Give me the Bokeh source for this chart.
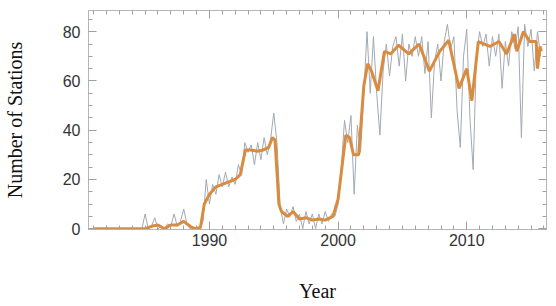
from bokeh.plotting import figure
from bokeh.models import Range1d, LinearAxis, SingleIntervalTicker
from bokeh.embed import file_html
from bokeh.resources import INLINE

# Monthly-ish station counts (read at quarter-year steps)
raw_years = [1981 + 0.25 * i for i in range(140)]
raw_counts = [
    0, 0, 0, 0, 0, 0, 0, 0, 0, 0, 0, 0, 0, 0, 0, 0,          # 1981-1984
    6, 0, 1, 4.5, 0, 1, 0, 2, 1, 6, 1, 3, 8, 2, 0, 0,         # 1985-1988
    0, 0, 3, 20, 10, 18, 14, 22, 17, 23, 17, 21, 18, 26, 22, 35,  # 1989-1992
    31, 34, 26, 35, 28, 37, 30, 36, 47, 35, 9, 2,             # 1993-1995
    8, 5, 9, 3, 6, 0, 7, 2, 6, 0, 6, 2, 7, 3, 6, 5,           # 1996-1999
    10, 25, 44, 35, 46, 14, 42, 31, 55, 80, 55, 78,           # 2000-2002
    55, 38, 64, 75, 62, 74, 78, 66, 79, 60, 75, 70,           # 2003-2005
    78, 70, 78, 63, 76, 45, 68, 75, 60, 76, 83, 73,           # 2006-2008
    78, 48, 33, 70, 81, 45, 24, 70, 80, 74, 79, 66,           # 2009-2011
    78, 70, 79, 57, 76, 66, 80, 73, 82, 37, 83, 74,           # 2012-2014
    81, 64, 80, 70,                                           # 2015
]

# Smoothed series
smooth_years = [1981, 1985, 1985.5, 1986, 1986.5, 1987, 1987.5, 1988, 1988.5, 1988.9,
                1989.3, 1989.6, 1990, 1990.5, 1991, 1991.5, 1992, 1992.4, 1992.8, 1993.2,
                1993.7, 1994.2, 1994.6, 1994.9, 1995.1, 1995.4, 1995.6, 1996.1, 1996.5, 1997,
                1997.5, 1998, 1998.5, 1999, 1999.6, 2000, 2000.3, 2000.6, 2000.9, 2001.2,
                2001.6, 2002.0, 2002.3, 2002.6, 2003.1, 2003.6, 2004.1, 2004.7, 2005.5, 2006.3,
                2007.1, 2007.9, 2008.6, 2009.4, 2010.0, 2010.4, 2010.9, 2011.8, 2012.5, 2013.1,
                2013.7, 2013.9, 2014.4, 2014.9, 2015.4, 2015.5, 2015.7, 2015.8]
smooth_counts = [0, 0, 1, 1.5, 0, 1.5, 1.5, 3, 1, 0,
                 0.5, 10, 14, 17, 18, 19, 20, 22, 32, 32,
                 31.5, 32, 33, 37, 36, 10, 7, 5, 7, 4,
                 4.5, 3.5, 4, 3.5, 5, 12, 25, 38, 37, 30,
                 30, 58, 67, 64, 56, 72, 71, 74.5, 71, 75,
                 64, 72, 76.5, 57, 65, 52, 76, 74, 76, 71,
                 79, 72, 80, 76, 76, 65, 74, 72]

x_label = "Year"
y_label = "Number of Stations"

GREY = "#a3a9b2"
ORANGE = "#d98c3f"
FRAME = "#b5b5b5"

p = figure(width=556, height=306, output_backend="svg", toolbar_location=None,
           x_range=Range1d(1980.6, 2016.2), y_range=Range1d(-0.3, 88.6),
           min_border_left=88, min_border_right=10, min_border_top=10, min_border_bottom=77)
p.xgrid.visible = False
p.ygrid.visible = False
p.outline_line_color = FRAME
p.outline_line_width = 1

p.line(raw_years, raw_counts, line_color=GREY, line_width=1)
p.line(smooth_years, smooth_counts, line_color=ORANGE, line_width=3)

bottom = p.xaxis[0]
left = p.yaxis[0]
bottom.ticker = SingleIntervalTicker(interval=10, num_minor_ticks=10)
left.ticker = SingleIntervalTicker(interval=20, num_minor_ticks=4)

top = LinearAxis(ticker=SingleIntervalTicker(interval=10, num_minor_ticks=10))
right = LinearAxis(ticker=SingleIntervalTicker(interval=20, num_minor_ticks=4))
p.add_layout(top, "above")
p.add_layout(right, "right")

for ax in [bottom, left, top, right]:
    ax.axis_line_color = FRAME
    ax.major_tick_line_color = "#a0a0a0"
    ax.minor_tick_line_color = "#a0a0a0"
    ax.major_tick_in = 8
    ax.major_tick_out = 0
    ax.minor_tick_in = 4
    ax.minor_tick_out = 0
    ax.major_label_text_font = "Liberation Sans"
    ax.major_label_text_font_size = "16px"
    ax.major_label_text_color = "#333333"
    ax.axis_label_text_font = "Liberation Serif"
    ax.axis_label_text_font_size = "20px"
    ax.axis_label_text_font_style = "normal"
    ax.axis_label_text_color = "#111111"

top_ticks = list(range(1980, 2020, 10))
right_ticks = list(range(0, 100, 20))
top.major_label_overrides = {t: "" for t in top_ticks}
right.major_label_overrides = {t: "" for t in right_ticks}
top.major_label_standoff = 0
right.major_label_standoff = 0

bottom.major_label_standoff = 4
left.major_label_standoff = 8
bottom.axis_label = x_label
left.axis_label = y_label
bottom.axis_label_standoff = 31
left.axis_label_standoff = 34

open("out.html", "w").write(file_html(p, INLINE))
